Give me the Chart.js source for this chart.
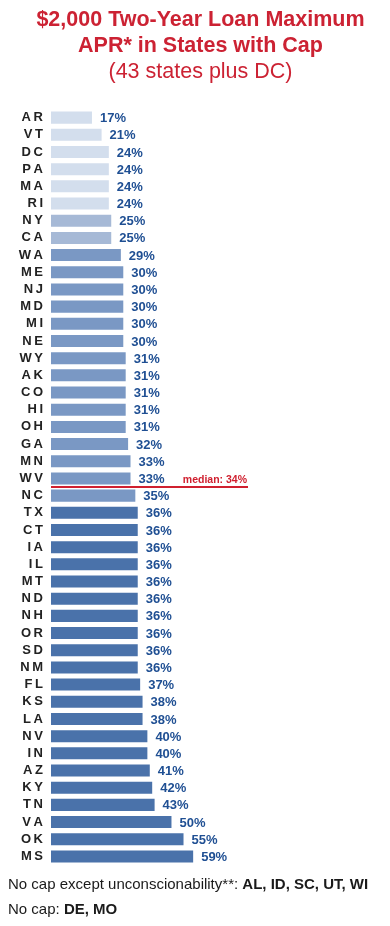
<!DOCTYPE html>
<html>
<head>
<meta charset="utf-8">
<script src="https://cdn.jsdelivr.net/npm/chart.js@4"></script>
<style>
  html, body { margin: 0; padding: 0; background: #fff; }
  #wrap { position: relative; width: 390px; height: 926px; }
  canvas { position: absolute; left: 0; top: 0; }
  .note { position: absolute; left: 8px; font: 15px "Liberation Sans", Arial, sans-serif; color: #1a1a1a; white-space: nowrap; }
  .note b { font-weight: bold; }
</style>
</head>
<body>
<div id="wrap">
  <canvas id="myChart" width="390" height="926"></canvas>
  <div class="note" style="top:875px">No cap except unconscionability**: <b>AL, ID, SC, UT, WI</b></div>
  <div class="note" style="top:900px">No cap: <b>DE, MO</b></div>
</div>
<script>
const states = ["AR","VT","DC","PA","MA","RI","NY","CA","WA","ME","NJ","MD","MI","NE","WY","AK","CO","HI","OH","GA","MN","WV","NC","TX","CT","IA","IL","MT","ND","NH","OR","SD","NM","FL","KS","LA","NV","IN","AZ","KY","TN","VA","OK","MS"];
const apr = [17,21,24,24,24,24,25,25,29,30,30,30,30,30,31,31,31,31,31,32,33,33,35,36,36,36,36,36,36,36,36,36,36,37,38,38,40,40,41,42,43,50,55,59];
const medianValue = 34;
const medianAfter = "WV";

function barColor(v) {
  if (v <= 24) return "#d3deed";
  if (v <= 25) return "#a6b9d6";
  if (v <= 35) return "#7a98c4";
  return "#4a72aa";
}

const valueLabels = {
  id: "valueLabels",
  afterDatasetsDraw(chart) {
    const ctx = chart.ctx;
    const meta = chart.getDatasetMeta(0);
    ctx.save();
    ctx.font = "bold 13px 'Liberation Sans', Arial, sans-serif";
    ctx.fillStyle = "#1f4f93";
    ctx.textAlign = "left";
    ctx.textBaseline = "middle";
    meta.data.forEach((bar, i) => {
      ctx.fillText(apr[i] + "%", bar.x + 8, bar.y + 1);
    });
    ctx.restore();
  }
};

const medianLine = {
  id: "medianLine",
  afterDatasetsDraw(chart) {
    const ctx = chart.ctx;
    const y = chart.scales.y;
    const i = states.indexOf(medianAfter);
    const ly = (y.getPixelForValue(i) + y.getPixelForValue(i + 1)) / 2;
    const left = chart.chartArea.left;
    const right = 248;
    ctx.save();
    ctx.strokeStyle = "#d0202f";
    ctx.lineWidth = 2;
    ctx.beginPath();
    ctx.moveTo(left, ly);
    ctx.lineTo(right, ly);
    ctx.stroke();
    ctx.font = "bold 10.5px 'Liberation Sans', Arial, sans-serif";
    ctx.fillStyle = "#d0202f";
    ctx.textAlign = "right";
    ctx.textBaseline = "alphabetic";
    ctx.fillText("median: " + medianValue + "%", right - 1, ly - 4);
    ctx.restore();
  }
};

new Chart(document.getElementById("myChart").getContext("2d"), {
  type: "bar",
  data: {
    labels: states,
    datasets: [{
      data: apr,
      backgroundColor: apr.map(barColor),
      borderWidth: 0,
      barPercentage: 0.7,
      categoryPercentage: 1.0
    }]
  },
  options: {
    indexAxis: "y",
    responsive: false,
    animation: false,
    layout: { padding: { left: 11, right: 0, top: 0, bottom: 61 } },
    plugins: {
      legend: { display: false },
      tooltip: { enabled: false },
      title: {
        display: true,
        text: ["$2,000 Two-Year Loan Maximum", "APR* in States with Cap"],
        color: "#cc2233",
        font: { family: "'Liberation Sans', Arial, sans-serif", size: 21.5, weight: "bold", lineHeight: 1.21 },
        padding: { top: 7, bottom: 0 }
      },
      subtitle: {
        display: true,
        text: "(43 states plus DC)",
        color: "#cc2233",
        font: { family: "'Liberation Sans', Arial, sans-serif", size: 21.5, weight: "normal", lineHeight: 1.21 },
        padding: { top: 0, bottom: 24 }
      }
    },
    scales: {
      x: { display: false, min: 0, max: 140.7 },
      y: {
        afterFit(scale) { scale.width = 40; },
        grid: { display: false, drawTicks: false },
        border: { display: false },
        ticks: {
          autoSkip: false,
          padding: 8,
          color: "#222",
          font: { family: "'Liberation Sans', Arial, sans-serif", size: 13, weight: "bold" },
          callback: function(v) { return this.getLabelForValue(v).split("").join("\u2009"); }
        }
      }
    }
  },
  plugins: [valueLabels, medianLine]
});
</script>
</body>
</html>
